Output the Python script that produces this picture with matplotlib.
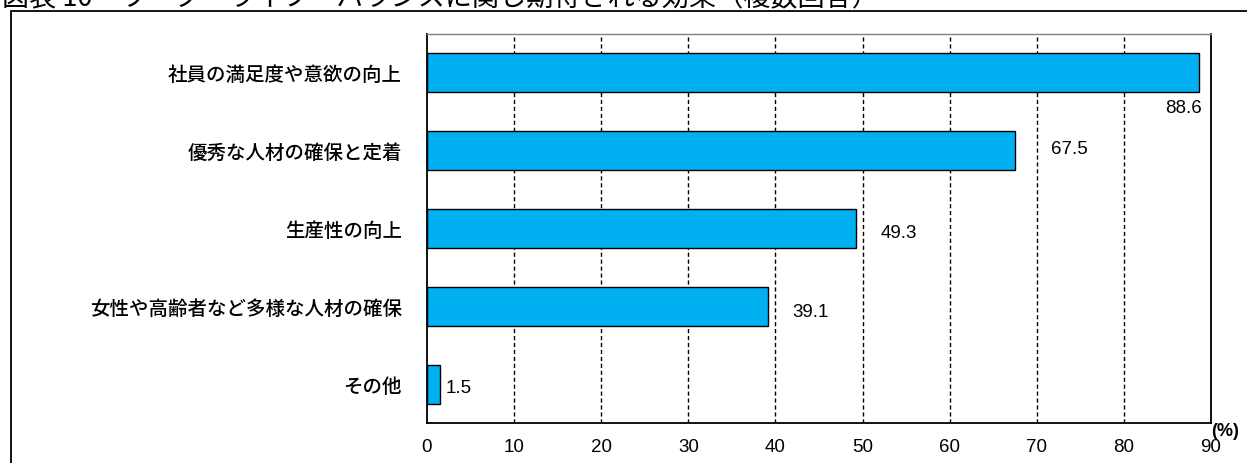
import matplotlib.pyplot as plt
import matplotlib.patches as patches

plt.rcParams['font.family'] = ['Noto Sans CJK JP', 'DejaVu Sans']

# data
categories = ['社員の満足度や意欲の向上', '優秀な人材の確保と定着', '生産性の向上',
              '女性や高齢者など多様な人材の確保', 'その他']
values = [88.6, 67.5, 49.3, 39.1, 1.5]
x_ticks = [0, 10, 20, 30, 40, 50, 60, 70, 80, 90]

title = '図表 10　ワーク・ライフ・バランスに関し期待される効果（複数回答）'

# label offsets in pixels (dx from bar end, dy downward from bar centre)
label_dx = [3, 36, 24, 25, 6]
label_dy = [35, -2, 4, 5, 3]

W, H = 1247, 464
fig = plt.figure(figsize=(W / 100, H / 100), dpi=100)

# outer frame, runs off the right and bottom edges
frame = patches.Rectangle((11 / W, -0.1), 1.2, 1 - 12 / H + 0.1,
                          transform=fig.transFigure, fill=False,
                          edgecolor='black', linewidth=1.3)
fig.patches.append(frame)

fig.text(2 / W, 1 - 6 / H, title, fontsize=19.5, va='baseline', ha='left')

ax = fig.add_axes([427 / W, 1 - 424 / H, 784 / W, 389 / H])

ypos = list(range(len(categories)))
ax.barh(ypos, values, height=0.5, color='#00B0F0', edgecolor='black',
        linewidth=1, zorder=3)

ax.set_xlim(0, 90)
ax.set_ylim(len(categories) - 0.5, -0.5)
ax.set_xticks(x_ticks)
ax.set_xticklabels([str(t) for t in x_ticks], family=['Liberation Sans'],
                   fontsize=13.5)
ax.set_yticks(ypos)
ax.set_yticklabels(categories, fontsize=14, fontweight='medium')
ax.tick_params(axis='x', length=0, pad=11)
ax.tick_params(axis='y', length=0, pad=18)

for t in x_ticks[1:]:
    ax.axvline(t, color='black', linestyle=(0, (3, 2)), linewidth=1, zorder=1)

for s in ['left', 'bottom', 'right']:
    ax.spines[s].set_color('black')
    ax.spines[s].set_linewidth(1.3)
ax.spines['top'].set_color('#808080')
ax.spines['top'].set_linewidth(1)

# value labels
for i, v in enumerate(values):
    ha = 'right' if i == 0 else 'left'
    ax.annotate(f'{v:.1f}', (v, i), xytext=(label_dx[i] * 0.72, -label_dy[i] * 0.72),
                textcoords='offset points', ha=ha, va='center',
                family=['Liberation Sans'], fontsize=13.5)

ax.text(1.0, -0.02, '(%)', transform=ax.transAxes, ha='left', va='center',
        family=['Liberation Sans'], fontsize=13, fontweight='bold')

fig.savefig('out.png', dpi=100)
